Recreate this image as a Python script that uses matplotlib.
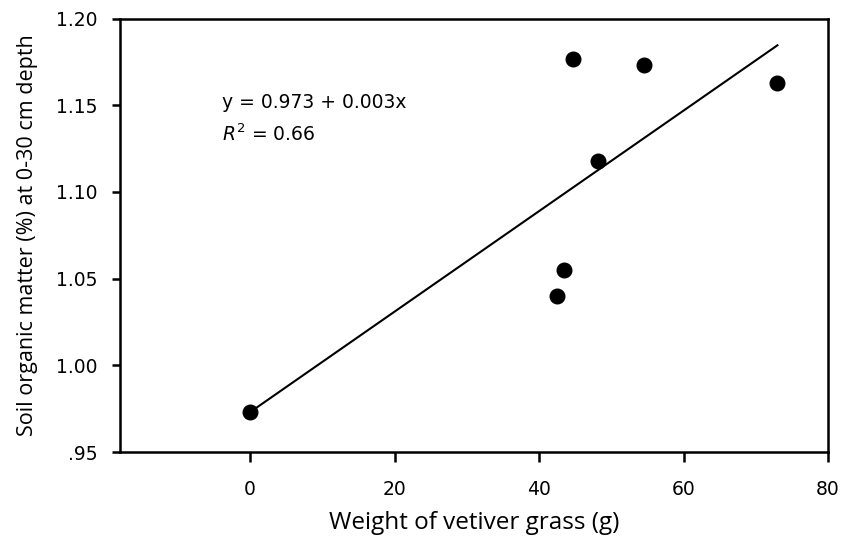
import numpy as np
import matplotlib
matplotlib.use("Agg")
import matplotlib.pyplot as plt

# Data
weight_g = [0.0, 42.5, 43.4, 44.7, 48.2, 54.5, 73.0]
som_pct = [0.973, 1.040, 1.055, 1.1765, 1.118, 1.173, 1.163]
x_ticks = [0, 20, 40, 60, 80]
y_ticks = [0.95, 1.00, 1.05, 1.10, 1.15, 1.20]
y_tick_labels = [".95", "1.00", "1.05", "1.10", "1.15", "1.20"]
eq_text = "y = 0.973 + 0.003x"
r2_text = "$R^2$ = 0.66"

fig = plt.figure(figsize=(8.42, 5.36), dpi=100)
ax = fig.add_axes([120/842, 1-452/536, (828-120)/842, (452-18.5)/536])

slope, intercept = np.polyfit(weight_g, som_pct, 1)
xf = np.array([min(weight_g), max(weight_g)])
ax.plot(xf, intercept + slope*xf, color="black", lw=1.5, zorder=2)
ax.plot(weight_g, som_pct, "o", color="black", ms=10.5, zorder=3)

ax.set_xlim(-18, 80)
ax.set_ylim(0.95, 1.20)
ax.set_xticks(x_ticks)
ax.set_yticks(y_ticks)
ax.set_yticklabels(y_tick_labels)

for s in ax.spines.values():
    s.set_linewidth(1.8)
    s.set_color("black")

ax.tick_params(axis="y", direction="out", length=6, width=1.8, pad=10, labelsize=13.5)
ax.tick_params(axis="x", direction="out", length=7, width=1.8, pad=13, labelsize=13.5)

ax.set_xlabel("Weight of vetiver grass (g)", fontsize=17.5, family="Open Sans", labelpad=9)
ax.set_ylabel("Soil organic matter (%) at 0-30 cm depth", fontsize=15.5, family="Open Sans", labelpad=13)

ax.text(-3.9, 1.1515, eq_text, fontsize=13.5, ha="left", va="center")
ax.text(-3.9, 1.1335, r2_text, fontsize=13.5, ha="left", va="center")

fig.savefig("out.png", dpi=100)
